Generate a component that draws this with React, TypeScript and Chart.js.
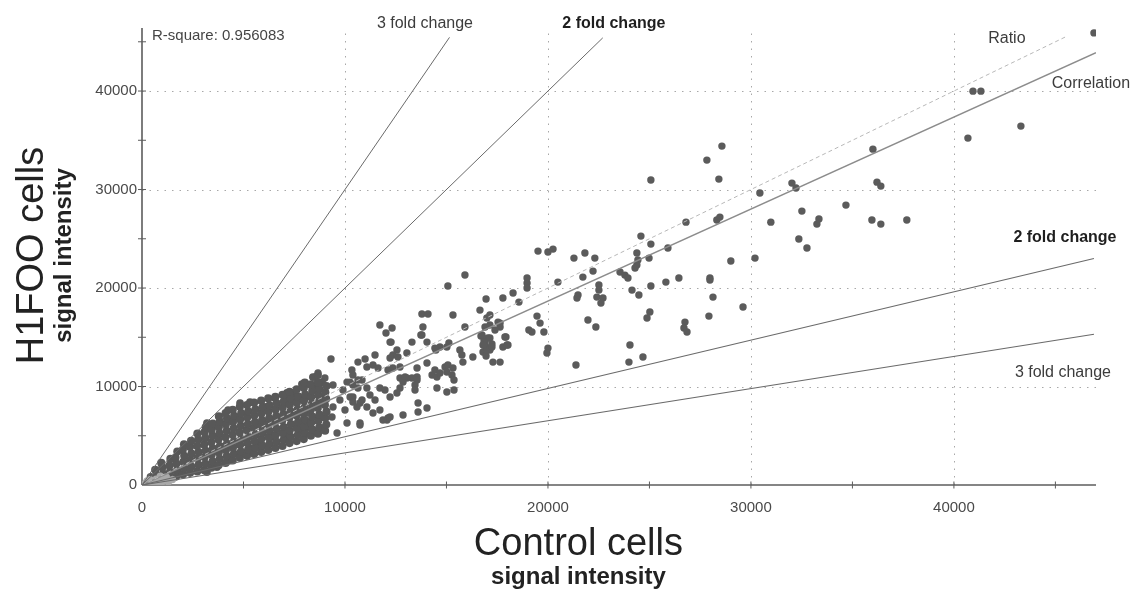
import React, { useEffect, useRef } from 'react';
import { Chart, registerables } from 'chart.js';

Chart.register(...registerables);

const FONT = "'Liberation Sans', Arial, Helvetica, sans-serif";

// ---------- axes ----------
const X_MAX = 47000;
const Y_MAX = 46400;
const tickLabelValues = [0, 10000, 20000, 30000, 40000];
const gridValues = [10000, 20000, 30000, 40000];
const minorTickValues = [5000, 10000, 15000, 20000, 25000, 30000, 35000, 40000, 45000];

// ---------- reference lines (data units) ----------
const threeFoldUpLine: [number, number][] = [[0, 0], [15150, 45450]];
const twoFoldUpLine: [number, number][] = [[0, 0], [22700, 45400]];
const ratioLine: [number, number][] = [[0, 0], [45500, 45500]];
const correlationLine: [number, number][] = [[0, 0], [47000, 43900]];
const twoFoldDownLine: [number, number][] = [[0, 0], [46900, 23000]];
const threeFoldDownLine: [number, number][] = [[0, 0], [46900, 15300]];

// ---------- labels ----------
const lineLabelTexts = ['3 fold change', '2 fold change', 'Ratio', 'Correlation', '2 fold change', '3 fold change'];
const lineLabelX = [13940, 23250, 42610, 46750, 45470, 45370];
const lineLabelY = [46890, 46890, 45370, 40800, 25070, 11370];
const lineLabelBold = [false, true, false, false, true, false];
const rSquareText = 'R-square: 0.956083';
const yTitleMain = 'H1FOO cells';
const xTitleMain = 'Control cells';
const titleSub = 'signal intensity';

// ---------- scatter data ----------
const originPoints: [number, number][] = [
  [150, 120], [300, 80], [450, 260], [600, 150], [250, 400], [800, 350], [950, 200],
  [1100, 450], [700, 600], [1300, 300], [1500, 550], [400, 550], [1200, 800], [900, 900],
];

const coreCloud: [number, number][] = [
  [380, 260], [430, 810], [690, 340], [730, 980], [650, 1540],
  [990, 520], [1040, 1160], [1000, 1780], [950, 2240],
  [1320, 690], [1380, 1330], [1350, 1960], [1400, 2650],
  [1680, 860], [1730, 1490], [1690, 2170], [1650, 2790], [1740, 3400],
  [2020, 1060], [2090, 1690], [2040, 2340], [2080, 2960], [2010, 3580], [2070, 4130],
  [2370, 1240], [2430, 1880], [2380, 2560], [2440, 3190], [2360, 3860], [2420, 4480],
  [2720, 1380], [2790, 2040], [2740, 2710], [2790, 3340], [2710, 3960], [2770, 4620], [2730, 5230],
  [3070, 1490], [3130, 2140], [3080, 2810], [3140, 3460], [3060, 4090], [3120, 4760], [3080, 5360], [3140, 5880],
  [3420, 1760], [3480, 2390], [3430, 3060], [3490, 3710], [3410, 4340], [3470, 5010], [3430, 5620], [3490, 6230],
  [3770, 2010], [3830, 2660], [3780, 3290], [3840, 3960], [3760, 4610], [3820, 5240], [3780, 5860], [3840, 6440], [3790, 6960],
  [4120, 2240], [4180, 2910], [4130, 3540], [4190, 4210], [4110, 4840], [4170, 5510], [4130, 6140], [4190, 6760], [4120, 7290],
  [4470, 2490], [4530, 3160], [4480, 3790], [4540, 4460], [4460, 5090], [4520, 5760], [4480, 6390], [4540, 7010], [4470, 7640],
  [4820, 2760], [4880, 3390], [4830, 4060], [4890, 4690], [4810, 5340], [4870, 6010], [4830, 6640], [4890, 7290], [4820, 7940],
  [5170, 2960], [5230, 3590], [5180, 4260], [5240, 4890], [5160, 5560], [5220, 6190], [5180, 6860], [5240, 7490], [5170, 8110],
  [5520, 3160], [5580, 3790], [5530, 4460], [5590, 5090], [5510, 5760], [5570, 6390], [5530, 7060], [5590, 7690], [5520, 8360],
  [5870, 3360], [5930, 3990], [5880, 4660], [5940, 5290], [5860, 5960], [5920, 6590], [5880, 7260], [5940, 7890], [5870, 8560],
  [6220, 3560], [6280, 4190], [6230, 4860], [6290, 5490], [6210, 6160], [6270, 6790], [6230, 7460], [6290, 8090], [6220, 8790],
  [6570, 3760], [6630, 4390], [6580, 5060], [6640, 5690], [6560, 6360], [6620, 6990], [6580, 7660], [6640, 8290], [6570, 8960],
  [6920, 3960], [6980, 4590], [6930, 5260], [6990, 5890], [6910, 6560], [6970, 7190], [6930, 7860], [6990, 8490], [6920, 9160],
  [7270, 4260], [7330, 4890], [7280, 5560], [7340, 6190], [7260, 6860], [7320, 7490], [7280, 8160], [7340, 8790], [7270, 9460],
  [7620, 4460], [7680, 5090], [7630, 5760], [7690, 6390], [7610, 7060], [7670, 7690], [7630, 8360], [7690, 8990], [7620, 9710],
  [7970, 4660], [8030, 5290], [7980, 5960], [8040, 6590], [7960, 7260], [8020, 7890], [7980, 8560], [8040, 9190], [7970, 9860], [8020, 10400],
  [8320, 5010], [8380, 5640], [8330, 6310], [8390, 6940], [8310, 7610], [8370, 8240], [8330, 8910], [8390, 9540], [8320, 10210],
  [8670, 5210], [8730, 5840], [8680, 6510], [8740, 7140], [8660, 7810], [8720, 8440], [8680, 9110], [8740, 9740], [8670, 10410],
  [9020, 5510], [9080, 6140], [9030, 6810], [9090, 7440], [9010, 8110], [9070, 8740], [9030, 9410], [9090, 10040],
];

const cloudEdgePoints: [number, number][] = [
  [8420, 10960], [8620, 9850], [7140, 8930], [7440, 9340], [6550, 8830], [6060, 7920], [6210, 7610],
  [5320, 8420], [4830, 8320], [4240, 7610], [3500, 6090], [3200, 6290], [7140, 5380], [7780, 5380],
  [8130, 5890], [6400, 4870], [5810, 4260], [5320, 3760], [4830, 3250], [4330, 2540], [3690, 1830], [3200, 1320],
  [7880, 10250], [7140, 9340], [8670, 11170], [8870, 10450], [7190, 4870],
];

const midDensePoints: [number, number][] = [
  [13790, 17360], [14090, 17360], [15320, 17260], [11720, 16240], [12020, 15430], [12320, 15940], [13840, 16040],
  [13740, 15230], [12270, 14510], [13300, 14510], [14040, 14510], [12560, 13700], [12360, 13200], [12610, 12990],
  [12220, 12890], [13050, 13400], [9310, 12790], [10640, 12480], [10990, 12790], [11380, 12180], [11630, 11880],
  [10340, 11670], [10390, 11170], [12120, 11670], [12360, 11880], [12710, 11980], [13550, 11880], [13550, 10960],
  [13300, 10860], [13050, 10860], [14040, 12380], [14680, 14010], [14480, 13700], [15020, 14010], [15120, 14410],
  [15660, 13700], [15760, 13200], [15810, 12480], [16300, 12990], [16750, 15230], [16900, 14510], [17000, 13700],
  [16800, 14210], [17140, 14920], [17240, 14010], [14430, 11670], [14290, 11170], [14530, 10960], [14680, 11370],
  [14930, 11980], [15070, 12180], [15020, 11470], [15320, 11880], [15270, 11170], [15370, 10660], [13550, 10660],
  [13450, 10150], [13450, 9640], [14530, 9850], [15020, 9440], [15370, 9640], [13600, 8320], [14040, 7820],
  [13600, 7410], [12860, 7100], [12070, 6600], [12120, 6800], [10740, 6090], [9610, 5280], [8870, 5790],
  [11230, 9140], [11480, 8630], [11720, 9850], [11970, 9640], [12220, 8930], [12560, 9340], [12710, 9850],
  [10840, 8630], [10390, 8420], [10590, 7920], [10250, 8930], [12710, 10860], [12960, 10960], [12860, 10450],
  [10840, 10660], [10100, 10450], [10640, 9850], [11080, 9850], [9900, 9640], [9750, 8630], [9410, 7920],
  [10000, 7610], [8920, 8930], [8770, 10350], [8520, 10960], [8280, 10150], [8030, 8930], [8420, 7920],
  [8130, 7310], [7930, 6600], [8770, 6900], [9360, 6900], [8670, 11370], [9010, 10860], [9410, 10150],
  [11480, 13200], [11080, 11980], [10640, 10660], [10390, 10150], [10250, 10450], [10100, 6290], [10740, 6290],
  [11870, 6600], [12220, 6900], [10390, 8930], [10740, 8320], [11080, 7920], [11380, 7310], [11720, 7610],
  [13790, 15230], [12220, 14510], [14430, 13900], [16990, 16950], [16900, 16040], [17140, 16240],
];

const spreadPoints: [number, number][] = [
  [24580, 25270], [25070, 24460], [25910, 24060], [19510, 23750], [20000, 23650], [20250, 23950], [21280, 23040],
  [21820, 23550], [22310, 23040], [24380, 23550], [24430, 22840], [24380, 22330], [24980, 23040], [22220, 21720],
  [21720, 21110], [23550, 21620], [23790, 21310], [23940, 21010], [24290, 22030], [25070, 20200], [25810, 20600],
  [26450, 21010], [27980, 20810], [28130, 19080], [27930, 17150], [26750, 16540], [26700, 15940], [26850, 15530],
  [24880, 16950], [25020, 17560], [24140, 19790], [24480, 19290], [22510, 20300], [22510, 19790], [22410, 19080],
  [22710, 18980], [22610, 18470], [21430, 18980], [21480, 19290], [20490, 20600], [18970, 21010], [18970, 20500],
  [18970, 20000], [18280, 19490], [18570, 18570], [17780, 18980], [16950, 18880], [17140, 17260], [17540, 16540],
  [17640, 16040], [16650, 17760], [19460, 17150], [19610, 16440], [19800, 15530], [19060, 15730], [19210, 15530],
  [21970, 16750], [22360, 16040], [20000, 13900], [19950, 13400], [24040, 14210], [24680, 12990], [23990, 12480],
  [21380, 12180], [17930, 15020], [17780, 14010], [18030, 14210], [17290, 12480], [17640, 12480], [16700, 15120],
  [16850, 14620], [16950, 14010], [17040, 14920], [17140, 13700], [16800, 13500], [17240, 14310], [16950, 13090],
  [15910, 21320], [15070, 20200], [15910, 16040], [17390, 15730], [17640, 16440], [17880, 15020], [17980, 14210],
];

const upperPoints: [number, number][] = [
  [46900, 45900], [40940, 39990], [41330, 39990], [43300, 36440], [40690, 35220], [36010, 34100], [28570, 34410],
  [27830, 32990], [28420, 31060], [30440, 29640], [32020, 30650], [32220, 30150], [36210, 30750], [36400, 30350],
  [34680, 28420], [32510, 27810], [30980, 26690], [33250, 26490], [33350, 27000], [35960, 26900], [36400, 26490],
  [37680, 26900], [32360, 24970], [32760, 24060], [29010, 22740], [30200, 23040], [28320, 26900], [28470, 27200],
  [27980, 21010], [26800, 26690], [29610, 18070], [25070, 30960],
];

const toXY = (arr: [number, number][]) => arr.map(([x, y]) => ({ x, y }));

const decorPlugin = {
  id: 'decor',
  beforeDatasetsDraw(chart: any) {
    const { ctx, chartArea, scales } = chart;
    const { left, right, top, bottom } = chartArea;
    const xs = scales.x;
    const ys = scales.y;
    ctx.save();
    ctx.strokeStyle = '#a8a8a8';
    ctx.lineWidth = 1;
    ctx.setLineDash([1.5, 6]);
    gridValues.forEach((v) => {
      const px = Math.round(xs.getPixelForValue(v)) + 0.5;
      ctx.beginPath();
      ctx.moveTo(px, bottom);
      ctx.lineTo(px, top);
      ctx.stroke();
      const py = Math.round(ys.getPixelForValue(v)) + 0.5;
      ctx.beginPath();
      ctx.moveTo(left, py);
      ctx.lineTo(right, py);
      ctx.stroke();
    });
    ctx.setLineDash([]);
    ctx.strokeStyle = '#5c5c5c';
    ctx.lineWidth = 1.6;
    ctx.beginPath();
    ctx.moveTo(left, bottom);
    ctx.lineTo(right, bottom);
    ctx.stroke();
    ctx.beginPath();
    ctx.moveTo(left, bottom);
    ctx.lineTo(left, top);
    ctx.stroke();
    ctx.lineWidth = 1;
    minorTickValues.forEach((v) => {
      const px = xs.getPixelForValue(v);
      ctx.beginPath();
      ctx.moveTo(px, bottom - 3.5);
      ctx.lineTo(px, bottom + 3.5);
      ctx.stroke();
      const py = ys.getPixelForValue(v);
      if (v <= Y_MAX) {
        ctx.beginPath();
        ctx.moveTo(left - 4, py);
        ctx.lineTo(left + 4, py);
        ctx.stroke();
      }
    });

    // tick labels
    ctx.font = `15px ${FONT}`;
    ctx.fillStyle = '#4a4a4a';
    ctx.textBaseline = 'middle';
    ctx.textAlign = 'center';
    tickLabelValues.forEach((v) => {
      ctx.fillText(String(v), xs.getPixelForValue(v), bottom + 23);
    });
    ctx.textAlign = 'right';
    tickLabelValues.forEach((v) => {
      ctx.fillText(String(v), left - 5, ys.getPixelForValue(v));
    });
    ctx.restore();
  },
  afterDatasetsDraw(chart: any) {
    const { ctx, chartArea, scales } = chart;
    const xs = scales.x;
    const ys = scales.y;
    ctx.save();
    ctx.textAlign = 'center';
    ctx.textBaseline = 'middle';
    lineLabelTexts.forEach((t, i) => {
      ctx.font = `${lineLabelBold[i] ? 'bold ' : ''}16px ${FONT}`;
      ctx.fillStyle = lineLabelBold[i] ? '#1e1e1e' : '#3c3c3c';
      ctx.fillText(t, xs.getPixelForValue(lineLabelX[i]), ys.getPixelForValue(lineLabelY[i]));
    });
    ctx.textAlign = 'left';
    ctx.font = `15px ${FONT}`;
    ctx.fillStyle = '#454545';
    ctx.fillText(rSquareText, chartArea.left + 10, chartArea.top + 8);

    // axis titles
    ctx.fillStyle = '#222';
    ctx.textAlign = 'center';
    ctx.textBaseline = 'alphabetic';
    const xc = xs.getPixelForValue(21500);
    ctx.font = `38px ${FONT}`;
    ctx.fillText(xTitleMain, xc, chartArea.bottom + 70);
    ctx.font = `bold 24px ${FONT}`;
    ctx.fillText(titleSub, xc, chartArea.bottom + 99);

    const yc = ys.getPixelForValue(23300);
    ctx.save();
    ctx.translate(43, yc);
    ctx.rotate(-Math.PI / 2);
    ctx.font = `38px ${FONT}`;
    ctx.fillText(yTitleMain, 0, 0);
    ctx.restore();
    ctx.save();
    ctx.translate(71, yc);
    ctx.rotate(-Math.PI / 2);
    ctx.font = `bold 24px ${FONT}`;
    ctx.fillText(titleSub, 0, 0);
    ctx.restore();
    ctx.restore();
  },
};

export default function App() {
  const ref = useRef<HTMLCanvasElement | null>(null);
  useEffect(() => {
    if (!ref.current) return;
    const pointStyle = (data: [number, number][], color: string, r = 3.7) => ({
      data: toXY(data),
      backgroundColor: color,
      borderWidth: 0,
      pointRadius: r,
      pointHoverRadius: r,
      showLine: false,
      order: 5,
    });
    const lineStyle = (data: [number, number][], color: string, width: number, dash: number[] = []) => ({
      data: toXY(data),
      borderColor: color,
      borderWidth: width,
      borderDash: dash,
      pointRadius: 0,
      showLine: true,
      fill: false,
      order: 1,
    });
    const chart = new Chart(ref.current, {
      type: 'scatter',
      data: {
        datasets: [
          pointStyle(originPoints, '#a9a9a9'),
          pointStyle(coreCloud, '#585858', 4.1),
          pointStyle(cloudEdgePoints, '#585858', 3.9),
          pointStyle(midDensePoints, '#5b5b5b'),
          pointStyle(spreadPoints, '#5b5b5b'),
          pointStyle(upperPoints, '#5b5b5b'),
          lineStyle(threeFoldUpLine, '#6a6a6a', 1),
          lineStyle(twoFoldUpLine, '#6a6a6a', 1),
          lineStyle(twoFoldDownLine, '#6a6a6a', 1.1),
          lineStyle(threeFoldDownLine, '#6a6a6a', 1.1),
          lineStyle(ratioLine, '#b8b8b8', 1, [4, 3]),
          lineStyle(correlationLine, '#8c8c8c', 1.5),
        ] as any,
      },
      options: {
        animation: false,
        responsive: false,
        devicePixelRatio: 1,
        layout: { padding: { top: 28, right: 42, left: 0, bottom: 0 } },
        plugins: { legend: { display: false }, tooltip: { enabled: false } },
        events: [],
        scales: {
          x: {
            type: 'linear',
            min: 0,
            max: X_MAX,
            afterFit: (s: any) => { s.height = 108; },
            grid: { display: false, drawTicks: false },
            border: { display: false },
            ticks: { display: false },
          },
          y: {
            type: 'linear',
            min: 0,
            max: Y_MAX,
            afterFit: (s: any) => { s.width = 142; },
            grid: { display: false, drawTicks: false },
            border: { display: false },
            ticks: { display: false },
          },
        },
      } as any,
      plugins: [decorPlugin],
    });
    return () => chart.destroy();
  }, []);
  return (
    <div style={{ position: 'fixed', left: 0, top: 0, width: 1138, height: 593, background: '#fff' }}>
      <canvas ref={ref} width={1138} height={593} style={{ width: 1138, height: 593, display: 'block' }} />
    </div>
  );
}
